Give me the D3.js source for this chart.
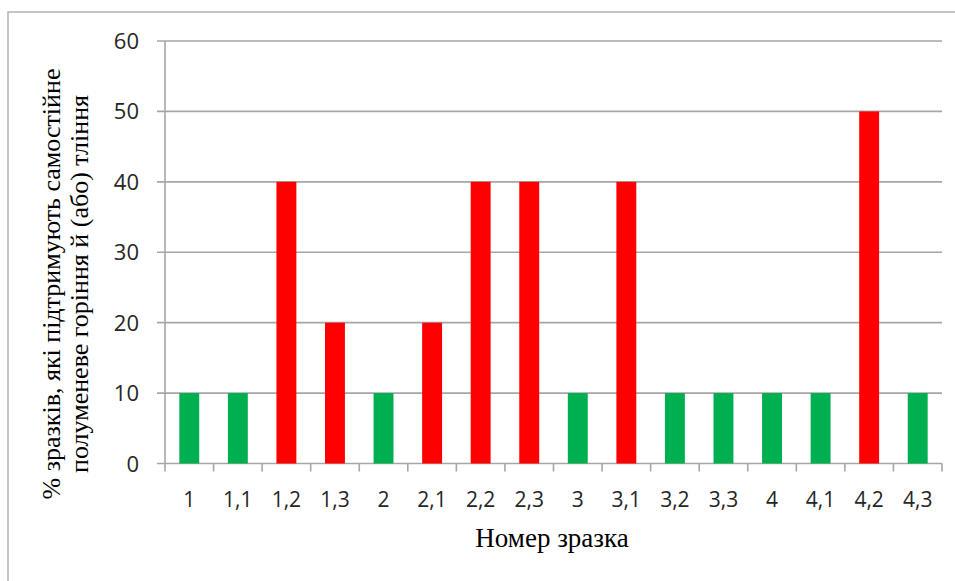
<!DOCTYPE html>
<html><head><meta charset="utf-8">
<script src="https://cdn.jsdelivr.net/npm/d3@7"></script>
<style>body{margin:0;background:#fff}svg{display:block}</style>
</head><body>
<svg id="c" width="955" height="581"></svg>
<script>
const categories = ["1","1,1","1,2","1,3","2","2,1","2,2","2,3","3","3,1","3,2","3,3","4","4,1","4,2","4,3"];
const values = [10,10,40,20,10,20,40,40,10,40,10,10,10,10,50,10];
const status = ["ok","ok","fail","fail","ok","fail","fail","fail","ok","fail","ok","ok","ok","ok","fail","ok"];
const yTicks = [0,10,20,30,40,50,60];
const yTitle = ["% зразків, які підтримують самостійне","полуменеве горіння й (або) тління"];
const xTitle = "Номер зразка";

(function(){
const svg = d3.select("#c");
const pL = 165, pR = 942, pT = 41, pB = 463.5;
const grid = "#a6a6a6";
const color = d3.scaleOrdinal().domain(["ok","fail"]).range(["#00b050","#ff0000"]);

svg.append("rect").attr("x",8).attr("y",12).attr("width",980).attr("height",600)
  .attr("fill","#fff").attr("stroke","#b3b3b3").attr("stroke-width",1.5);

const x = d3.scaleBand().domain(categories).range([pL,pR]).paddingInner(0.59).paddingOuter(0.295);
const xb = d3.scaleBand().domain(categories).range([pL,pR]);
const y = d3.scaleLinear().domain([0,60]).range([pB,pT]);

svg.append("g").selectAll("line").data(yTicks).join("line")
  .attr("x1",pL-8).attr("x2",pR).attr("y1",d=>y(d)).attr("y2",d=>y(d))
  .attr("stroke",grid).attr("stroke-width",1.6);

svg.append("g").selectAll("rect").data(values).join("rect")
  .attr("x",(d,i)=>x(categories[i])).attr("width",x.bandwidth())
  .attr("y",d=>y(d)).attr("height",d=>y(0)-y(d))
  .attr("fill",(d,i)=>color(status[i]));

svg.append("line").attr("x1",pL).attr("x2",pL).attr("y1",pT).attr("y2",pB)
  .attr("stroke",grid).attr("stroke-width",1.6);
const bounds = categories.map(c=>xb(c)).concat([pR]);
svg.append("g").selectAll("line").data(bounds).join("line")
  .attr("x1",d=>d).attr("x2",d=>d).attr("y1",pB).attr("y2",pB+8)
  .attr("stroke",grid).attr("stroke-width",1.6);

svg.append("g").selectAll("text").data(yTicks).join("text")
  .attr("x",139).attr("y",d=>y(d)+8).attr("text-anchor","end")
  .attr("font-family","'Open Sans', sans-serif").attr("font-size",22).attr("fill","#262626")
  .text(d=>d);

svg.append("g").selectAll("text").data(categories).join("text")
  .attr("x",d=>xb(d)+xb.bandwidth()/2).attr("y",507).attr("text-anchor","middle")
  .attr("font-family","'Open Sans', sans-serif").attr("font-size",21).attr("fill","#262626")
  .text(d=>d);

svg.append("text").attr("x",552).attr("y",547).attr("text-anchor","middle")
  .attr("font-family","'Liberation Serif', serif").attr("font-size",27).attr("fill","#000")
  .text(xTitle);

const yt = svg.append("text").attr("transform","translate(0,284) rotate(-90)")
  .attr("text-anchor","middle").attr("font-family","'Liberation Serif', serif").attr("font-size",26).attr("fill","#000");
yt.selectAll("tspan").data(yTitle).join("tspan")
  .attr("x",0).attr("y",(d,i)=>60+i*28).text(d=>d);
})();
</script>
</body></html>
